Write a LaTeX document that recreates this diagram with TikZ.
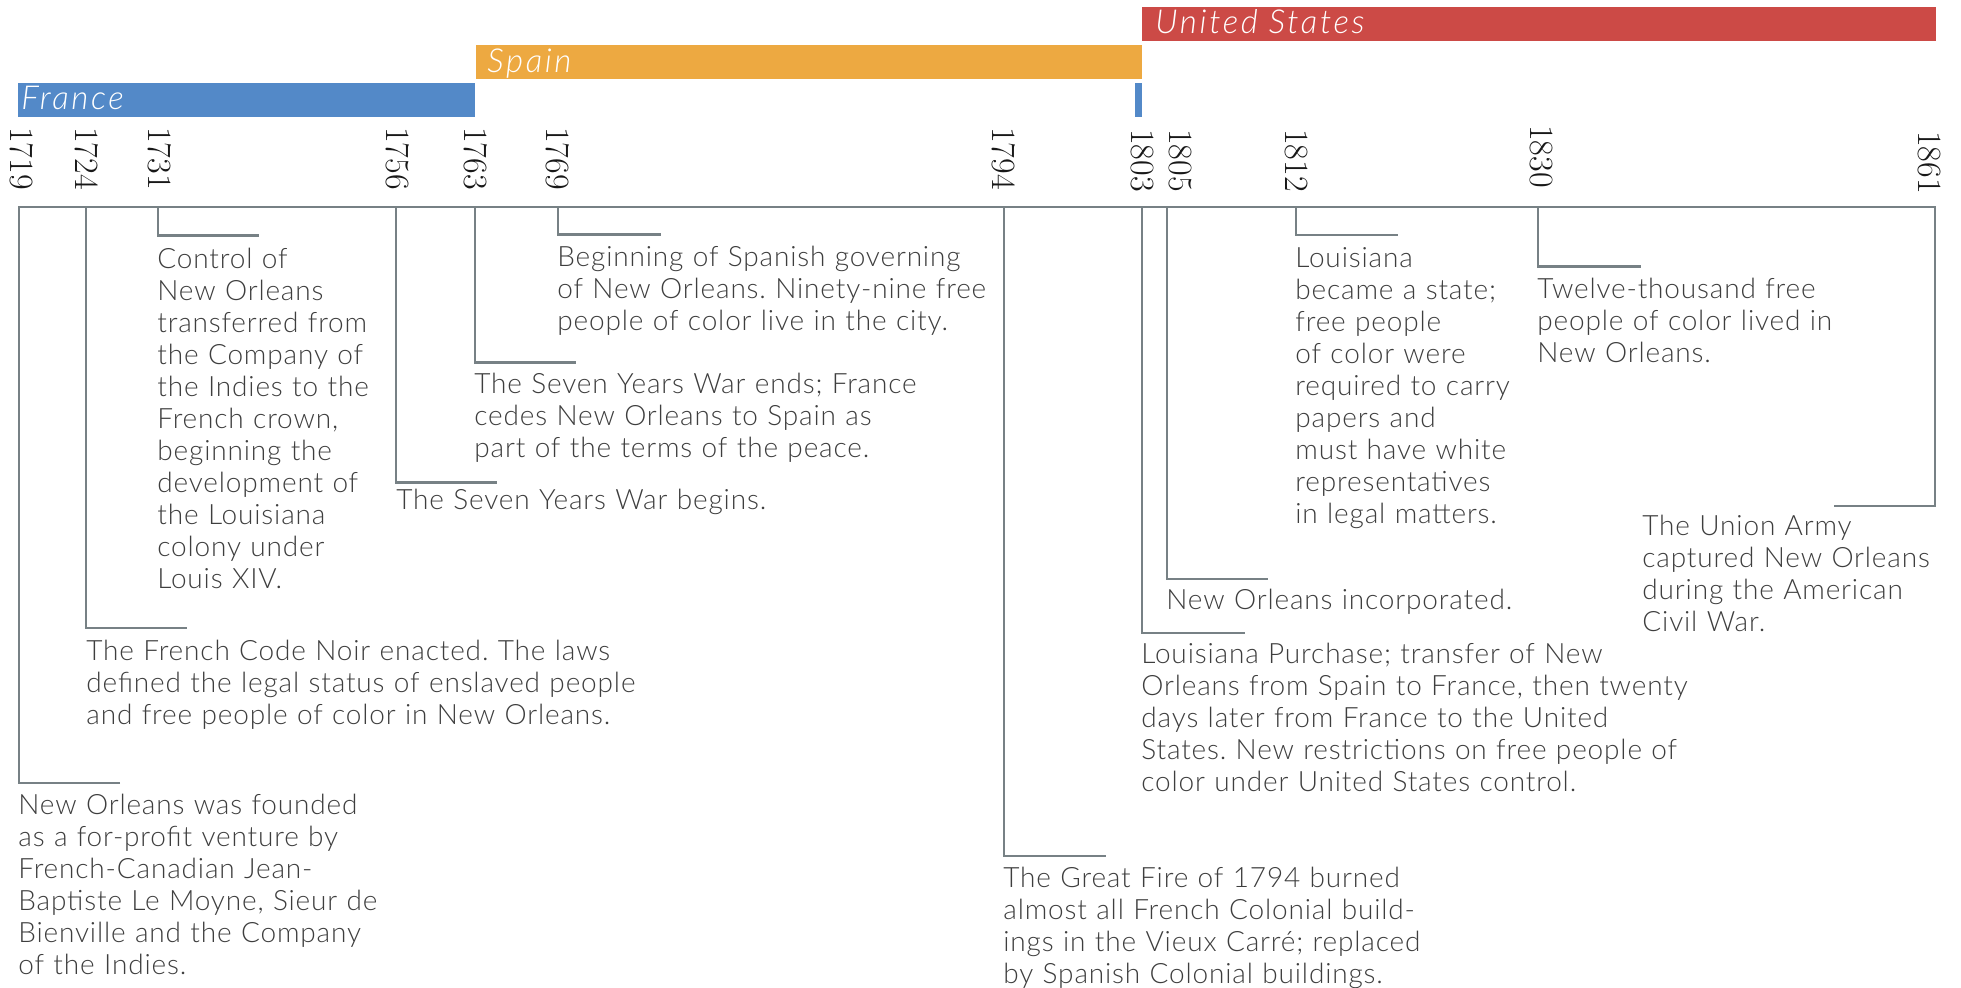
\documentclass[tikz,border=0pt]{standalone}
\usepackage{fontspec}
\usepackage{tikz}
\usepackage{xcolor}

\newfontfamily\evtfont{Lato}[UprightFont=* Light, ItalicFont=* Light Italic, LetterSpace=3]
\newfontfamily\erafont{Lato}[UprightFont=* Light Italic, LetterSpace=8]
\newfontfamily\yearfont{Latin Modern Roman}
\frenchspacing

\definecolor{francebar}{RGB}{83,137,200}
\definecolor{spainbar}{RGB}{237,169,65}
\definecolor{usbar}{RGB}{204,74,70}
\definecolor{linegray}{RGB}{119,129,133}
\definecolor{textgray}{RGB}{62,62,62}
\definecolor{yearblack}{RGB}{24,24,24}

\begin{document}
\begin{tikzpicture}[x=0.5pt, y=-0.5pt,
  stem/.style={draw=linegray, line width=1.4pt},
  year/.style={rotate=-90, anchor=east, inner sep=0pt, text=yearblack, font=\yearfont\fontsize{17}{17}\selectfont},
  event/.style={anchor=base west, inner sep=0pt, text width=#1, align=left, text=textgray, font=\evtfont\fontsize{14}{16}\selectfont},
  eralabel/.style={anchor=base west, inner sep=0pt, text=white, font=\erafont\fontsize{16.5}{17}\selectfont}]
  \useasboundingbox (0,0) rectangle (1961,987);

  % Rule bars
  \fill[usbar] (1142,7) rectangle (1936,41);
  \fill[spainbar] (476,45) rectangle (1142,79);
  \fill[francebar] (18,83) rectangle (475,117);
  \fill[francebar] (1135,83) rectangle (1142,117);
  \node[eralabel] (usa) at (1155,33) {United States};
  \node[eralabel] (spain) at (487,72) {Spain};
  \node[eralabel] (france) at (21,109) {France};

  % Years
  \node[year] (y1719) at (22,190) {1719};
  \node[year] (y1724) at (87,190) {1724};
  \node[year] (y1731) at (160,190) {1731};
  \node[year] (y1756) at (398,190) {1756};
  \node[year] (y1763) at (476,190) {1763};
  \node[year] (y1769) at (558,190) {1769};
  \node[year] (y1794) at (1004,190) {1794};
  \node[year] (y1803) at (1142,192) {1803};
  \node[year] (y1805) at (1180,192) {1805};
  \node[year] (y1812) at (1296,192) {1812};
  \node[year] (y1830) at (1541,188) {1830};
  \node[year] (y1861) at (1929,194) {1861};

  % Points on the axis and ends of the ticks
  \coordinate (a1719) at (19,207);   \coordinate (k1719) at (120,783);
  \coordinate (a1724) at (86,207);   \coordinate (k1724) at (187,628);
  \coordinate (a1731) at (158,207);  \coordinate (k1731) at (259,235.5);
  \coordinate (a1756) at (396,207);  \coordinate (k1756) at (497,482.5);
  \coordinate (a1763) at (475,207);  \coordinate (k1763) at (576,362.5);
  \coordinate (a1769) at (558,207);  \coordinate (k1769) at (661,234.5);
  \coordinate (a1794) at (1004,207); \coordinate (k1794) at (1106,856);
  \coordinate (a1803) at (1142,207); \coordinate (k1803) at (1245,633);
  \coordinate (a1805) at (1167,207); \coordinate (k1805) at (1268,579);
  \coordinate (a1812) at (1296,207); \coordinate (k1812) at (1398,235);
  \coordinate (a1830) at (1538,207); \coordinate (k1830) at (1641,266.5);
  \coordinate (a1861) at (1935,207); \coordinate (k1861) at (1834,506);

  % Axis with the first and last stem
  \draw[stem] (k1719) -| (a1719) -- (a1861) |- (k1861);
  \draw[stem] (a1724) |- (k1724);
  \draw[stem] (a1731) |- (k1731);
  \draw[stem] (a1756) |- (k1756);
  \draw[stem] (a1763) |- (k1763);
  \draw[stem] (a1769) |- (k1769);
  \draw[stem] (a1794) |- (k1794);
  \draw[stem] (a1803) |- (k1803);
  \draw[stem] (a1805) |- (k1805);
  \draw[stem] (a1812) |- (k1812);
  \draw[stem] (a1830) |- (k1830);

  % Events
  \node[event=205pt] (e1719) at (18,814) {New Orleans was founded\\as a for-profit venture by\\French-Canadian Jean-\\Baptiste Le Moyne, Sieur de\\Bienville and the Company\\of the Indies.};
  \node[event=316pt] (e1724) at (86,660) {The French Code Noir enacted. The laws\\defined the legal status of enslaved people\\and free people of color in New Orleans.};
  \node[event=118pt] (e1731) at (157,268) {Control of\\New Orleans\\transferred from\\the Company of\\the Indies to the\\French crown,\\beginning the\\development of\\the Louisiana\\colony under\\Louis XIV.};
  \node[event=215pt] (e1756) at (396,509) {The Seven Years War begins.};
  \node[event=255pt] (e1763) at (474,393) {The Seven Years War ends; France\\cedes New Orleans to Spain as\\part of the terms of the peace.};
  \node[event=245pt] (e1769) at (557,266.5) {Beginning of Spanish governing\\of New Orleans. Ninety-nine free\\people of color live in the city.};
  \node[event=240pt] (e1794) at (1003,887.5) {The Great Fire of 1794 burned\\almost all French Colonial build-\\ings in the Vieux Carré; replaced\\by Spanish Colonial buildings.};
  \node[event=315pt] (e1803) at (1141,663.5) {Louisiana Purchase; transfer of New\\Orleans from Spain to France, then twenty\\days later from France to the United\\States. New restrictions on free people of\\color under United States control.};
  \node[event=200pt] (e1805) at (1166,609) {New Orleans incorporated.};
  \node[event=128pt] (e1812) at (1295,267) {Louisiana\\became a state;\\free people\\of color were\\required to carry\\papers and\\must have white\\representatives\\in legal matters.};
  \node[event=170pt] (e1830) at (1537,298.5) {Twelve-thousand free\\people of color lived in\\New Orleans.};
  \node[event=150pt] (e1861) at (1642,535) {The Union Army\\captured New Orleans\\during the American\\Civil War.};
\end{tikzpicture}
\end{document}
